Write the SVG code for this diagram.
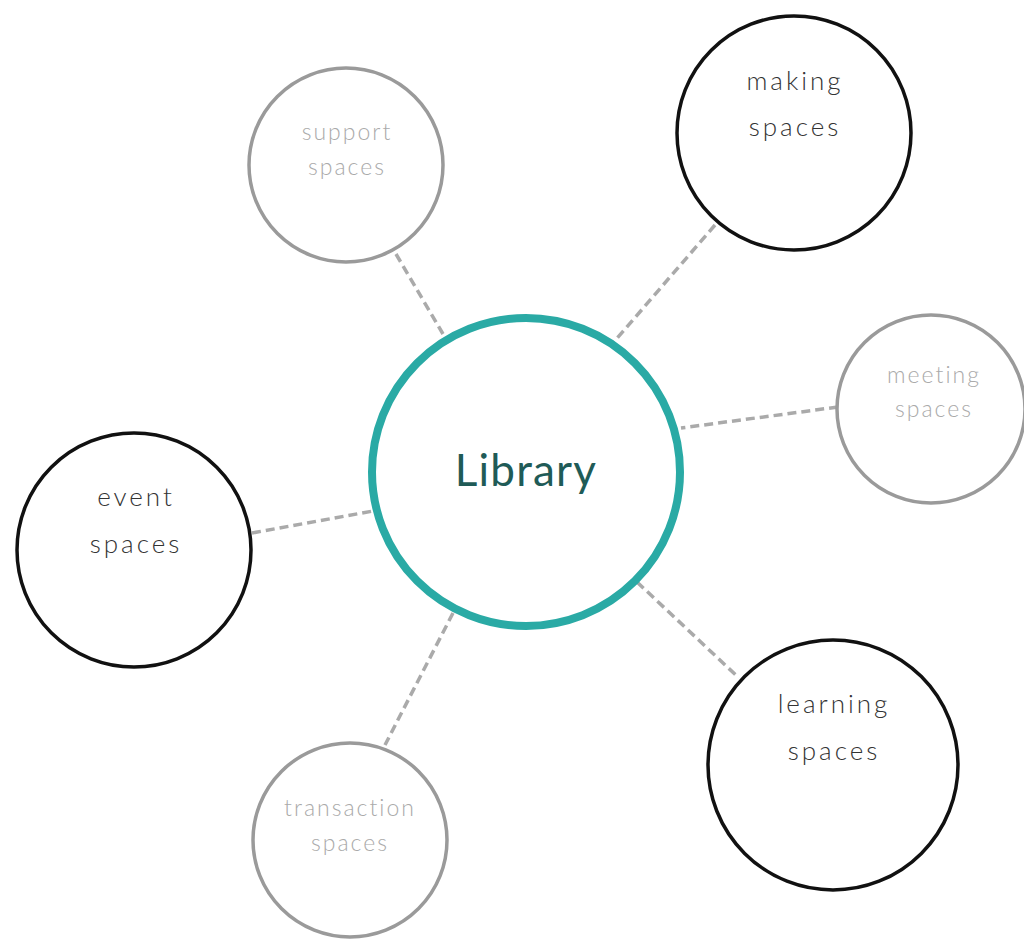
<svg xmlns="http://www.w3.org/2000/svg" width="1024" height="940" viewBox="0 0 1024 940">
<style>
.bg{fill:#fff}
.dark{fill:#fff;stroke:#111;stroke-width:3.5}
.light{fill:#fff;stroke:#9a9a9a;stroke-width:3.5}
.hub{fill:#fff;stroke:#2aaaa5;stroke-width:8}
.conn{stroke:#aaa;stroke-width:3.5;stroke-dasharray:9 5;fill:none}
text{font-family:Lato,"Open Sans","Liberation Sans",sans-serif;font-weight:300;text-anchor:middle}
.td{fill:#333;font-size:26px;letter-spacing:3px}
.tl{fill:#aaa;font-size:23px;letter-spacing:2px}
.th{fill:#1f5b57;font-size:44px;font-weight:400;letter-spacing:1.2px}
</style>
<rect class="bg" x="0" y="0" width="1024" height="940"/>
<g id="connectors">
<line class="conn" x1="396" y1="254" x2="443" y2="334"/>
<line class="conn" x1="715" y1="225" x2="613" y2="343"/>
<line class="conn" x1="838" y1="407" x2="681" y2="428"/>
<line class="conn" x1="252" y1="533" x2="373" y2="511"/>
<line class="conn" x1="637" y1="582" x2="739" y2="678"/>
<line class="conn" x1="453" y1="613" x2="385" y2="745"/>
</g>
<g id="library">
<circle class="hub" cx="526" cy="472" r="154"/>
<text class="th" x="526" y="486">Library</text>
</g>
<g id="support">
<circle class="light" cx="346" cy="165" r="97"/>
<text class="tl" x="347" y="140">support</text>
<text class="tl" x="347" y="175">spaces</text>
</g>
<g id="making">
<circle class="dark" cx="794" cy="133" r="117"/>
<text class="td" x="795" y="90">making</text>
<text class="td" x="795" y="136">spaces</text>
</g>
<g id="meeting">
<circle class="light" cx="931" cy="409" r="94"/>
<text class="tl" x="934" y="383">meeting</text>
<text class="tl" x="934" y="417">spaces</text>
</g>
<g id="event">
<circle class="dark" cx="134" cy="550" r="117"/>
<text class="td" x="136" y="506">event</text>
<text class="td" x="136" y="553">spaces</text>
</g>
<g id="learning">
<circle class="dark" cx="833" cy="765" r="125"/>
<text class="td" x="834" y="713">learning</text>
<text class="td" x="834" y="760">spaces</text>
</g>
<g id="transaction">
<circle class="light" cx="350" cy="840" r="97"/>
<text class="tl" x="350" y="816">transaction</text>
<text class="tl" x="350" y="851">spaces</text>
</g>
</svg>
